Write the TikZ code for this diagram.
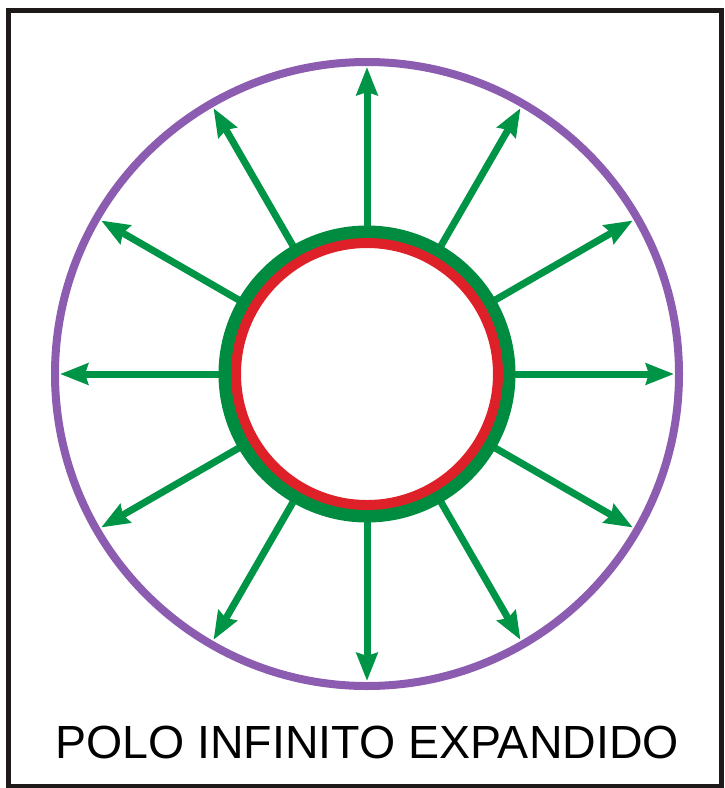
\documentclass[tikz,border=0pt]{standalone}
\usepackage{fontspec}
\setmainfont{Liberation Sans}
\usetikzlibrary{arrows.meta}
\definecolor{ringgreen}{RGB}{0,140,64}
\definecolor{arrowgreen}{RGB}{0,148,70}
\definecolor{ringred}{RGB}{222,32,40}
\definecolor{ringpurple}{RGB}{140,92,176}
\definecolor{framecol}{RGB}{30,26,26}
\begin{document}
\begin{tikzpicture}[x=1pt,y=-1pt,
  rayarrow/.style={arrowgreen, line width=7pt, -{Stealth[length=28pt,width=21pt,inset=3pt]}},
  framestyle/.style={framecol, line width=5pt},
  title/.style={font=\fontsize{46.5}{50}\selectfont, text=black, anchor=base, inner sep=0pt}]
\useasboundingbox (0,0) rectangle (724,788);
\draw[framestyle] (8,10) rectangle (721,786);
\coordinate (c) at (367,374);
\draw[ringpurple, line width=8pt] (c) circle[radius=312pt];
\foreach \a in {0,30,...,330}{
  \coordinate (s\a) at ([shift={(\a:140pt)}]c);
  \coordinate (e\a) at ([shift={(\a:307pt)}]c);
  \draw[rayarrow] (s\a) -- (e\a);
}
\draw[ringgreen, line width=13pt] (c) circle[radius=142pt];
\draw[ringred, line width=10pt] (c) circle[radius=131pt];
\node[title] (label) at (367,758) {POLO INFINITO EXPANDIDO};
\end{tikzpicture}
\end{document}
